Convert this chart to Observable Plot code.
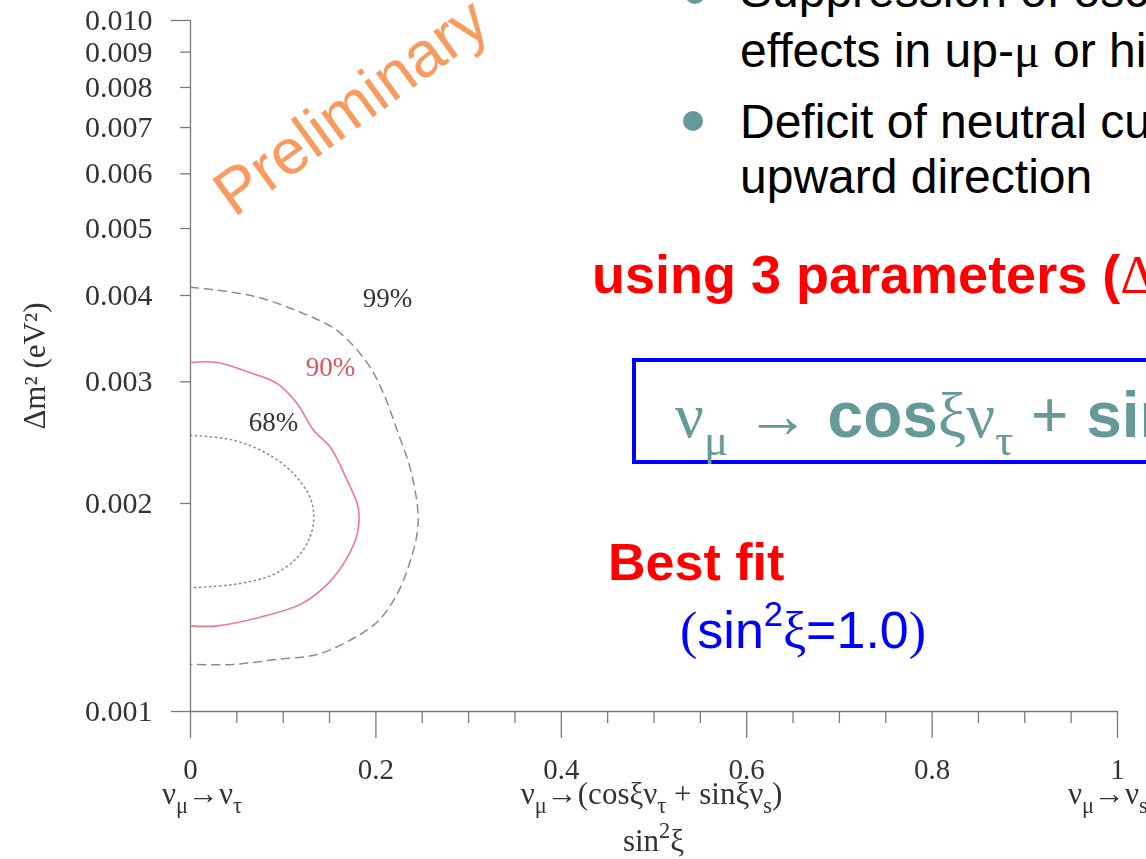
<!DOCTYPE html>
<html>
<head>
<meta charset="utf-8">
<script src="https://cdn.jsdelivr.net/npm/d3@7"></script>
<script src="https://cdn.jsdelivr.net/npm/@observablehq/plot@0.6"></script>
<style>
  html, body { margin: 0; padding: 0; background: #fff; overflow: hidden; }
  #stage { position: relative; width: 1146px; height: 859px; overflow: hidden; }
  #stage > svg { position: absolute; left: 0; top: 0; }
  #chart > svg { filter: blur(0.55px); }
</style>
</head>
<body>
<div id="stage"><div id="chart"></div></div>
<script>
// ---- axis ticks ----
const yMajorTicks = [0.001, 0.01];
const yMinorTicks = [0.002, 0.003, 0.004, 0.005, 0.006, 0.007, 0.008, 0.009];
const xMajorTicks = [0, 0.2, 0.4, 0.6, 0.8, 1];
const xMinorTicks = [0.05, 0.1, 0.15, 0.25, 0.3, 0.35, 0.45, 0.5, 0.55, 0.65, 0.7, 0.75, 0.85, 0.9, 0.95];

// ---- allowed-region contours: [sin²ξ, Δm² (eV²)] ----
const contour68 = [
  [0, 0.00251], [0.046, 0.00247], [0.083, 0.00236], [0.111, 0.00221], [0.129, 0.00204],
  [0.133, 0.00191], [0.129, 0.00179], [0.115, 0.00167], [0.090, 0.00158], [0.051, 0.00153], [0, 0.00151]
];
const contour90 = [
  [0, 0.00320], [0.029, 0.00320], [0.065, 0.00309], [0.094, 0.00298], [0.115, 0.00279],
  [0.133, 0.00255], [0.151, 0.00241], [0.169, 0.00216], [0.181, 0.00197], [0.180, 0.00181],
  [0.169, 0.00167], [0.148, 0.00153], [0.119, 0.00143], [0.076, 0.00137], [0.029, 0.00133], [0, 0.00133]
];
const contour99 = [
  [0, 0.00411], [0.065, 0.00400], [0.119, 0.00378], [0.158, 0.00356], [0.191, 0.00319],
  [0.208, 0.00289], [0.223, 0.00255], [0.237, 0.00225], [0.245, 0.00197], [0.245, 0.00183],
  [0.237, 0.00165], [0.223, 0.00148], [0.202, 0.00135], [0.173, 0.00127], [0.137, 0.00121],
  [0.094, 0.00119], [0.046, 0.00117], [0, 0.00117]
];

// ---- contour labels ----
const labelNames = ["99%", "90%", "68%"];
const labelS = [0.2125, 0.151, 0.0895];
const labelDm2 = [0.00396, 0.00315, 0.00262];
const labelColors = ["#333333", "#e0505f", "#333333"];
const contourLabels = labelNames.map((t, i) => ({text: t, s: labelS[i], dm2: labelDm2[i], color: labelColors[i]}));

const yTitle = "Δm² (eV²)";
const serif = "'Liberation Serif', 'Times New Roman', serif";
const sans = "'Liberation Sans', Arial, sans-serif";

const pt = d => d[0];
const pd = d => d[1];

const plot = Plot.plot({
  width: 1146,
  height: 859,
  marginLeft: 190,
  marginRight: 29,
  marginTop: 20,
  marginBottom: 148,
  style: {fontFamily: serif, fontSize: "29px", color: "#333", background: "transparent", overflow: "visible"},
  x: {domain: [0, 1]},
  y: {type: "log", domain: [0.001, 0.01]},
  marks: [
    Plot.ruleX([0], {stroke: "#7a7a7a", strokeWidth: 1.3}),
    Plot.ruleY([0.001], {stroke: "#7a7a7a", strokeWidth: 1.3}),
    Plot.axisY({ticks: yMajorTicks, tickSize: 19, tickPadding: 19, tickFormat: ".3f", label: null, fontSize: 30, stroke: "#7a7a7a", strokeWidth: 1.3}),
    Plot.axisY({ticks: yMinorTicks, tickSize: 10, tickPadding: 28, tickFormat: ".3f", label: null, fontSize: 30, stroke: "#7a7a7a", strokeWidth: 1.3}),
    Plot.axisX({ticks: xMajorTicks, tickSize: 27, tickPadding: 20, tickFormat: d => String(+d.toFixed(1)), label: null, stroke: "#7a7a7a", strokeWidth: 1.3}),
    Plot.axisX({ticks: xMinorTicks, tickSize: 12, fill: "none", label: null, stroke: "#7a7a7a", strokeWidth: 1.3}),
    Plot.line(contour99, {x: pt, y: pd, curve: "catmull-rom", stroke: "#8c8c8c", strokeWidth: 1.5, strokeDasharray: "8,6"}),
    Plot.line(contour90, {x: pt, y: pd, curve: "catmull-rom", stroke: "#ee7a88", strokeWidth: 1.6}),
    Plot.line(contour68, {x: pt, y: pd, curve: "catmull-rom", stroke: "#8c8c8c", strokeWidth: 1.6, strokeDasharray: "1.2,3.8", strokeLinecap: "round"}),
    Plot.text(contourLabels, {x: "s", y: "dm2", text: "text", fill: "color", fontSize: 27}),
    Plot.text([yTitle], {frameAnchor: "left", textAnchor: "middle", rotate: -90, dx: -155, fontSize: 31})
  ]
});
document.getElementById("chart").appendChild(plot);

// Rich text helper: segments may carry sub/sup, font, weight, colour.
function rich(parent, x, y, segs, base) {
  const t = parent.append("text")
    .attr("x", x).attr("y", y)
    .attr("font-family", base.family)
    .attr("font-size", base.size)
    .attr("font-weight", base.weight || "normal")
    .attr("fill", base.fill)
    .attr("text-anchor", base.anchor || "start");
  let shift = 0;
  for (const s of segs) {
    const seg = typeof s === "string" ? {t: s} : s;
    const target = seg.sub ? 0.28 : seg.sup ? -0.42 : 0;
    const dy = (target - shift) * base.size;
    shift = target;
    const ts = t.append("tspan").text(seg.t);
    if (dy) ts.attr("dy", dy);
    if (seg.sub || seg.sup) ts.attr("font-size", base.size * (seg.scale || base.subScale || 0.66));
    if (seg.family) ts.attr("font-family", seg.family);
    if (seg.weight) ts.attr("font-weight", seg.weight);
    if (seg.fill) ts.attr("fill", seg.fill);
  }
  return t;
}

// Channel names under the sin²ξ axis, placed with the plot's own x scale.
const sx = plot.scale("x");
const chartSvg = d3.select(plot);
const axisNotes = chartSvg.append("g").attr("fill", "#333");
const chan = {family: serif, size: 31, fill: "#333", subScale: 0.72};
rich(axisNotes, sx.apply(0) - 28, 804, ["ν", {t: "μ", sub: true}, "→ν", {t: "τ", sub: true}], chan);
rich(axisNotes, sx.apply(0.4) - 40, 804, ["ν", {t: "μ", sub: true}, "→(cosξν", {t: "τ", sub: true}, " + sinξν", {t: "s", sub: true}, ")"], chan);
rich(axisNotes, sx.apply(1) - 49, 804, ["ν", {t: "μ", sub: true}, "→ν", {t: "s", sub: true}], chan);
rich(axisNotes, sx.apply(0.5), 851, ["sin", {t: "2", sup: true}, "ξ"], {...chan, anchor: "middle"});

// Slide annotations laid over the figure.
const over = d3.select("#stage").append("svg")
  .attr("width", 1146).attr("height", 859)
  .style("overflow", "hidden");

const teal = "#669999";
over.append("circle").attr("cx", 695).attr("cy", -6).attr("r", 10).attr("fill", teal);
over.append("circle").attr("cx", 693).attr("cy", 121).attr("r", 10).attr("fill", teal);

const body = {family: sans, size: 48, fill: "#000"};
rich(over, 740, 7, ["Suppression of oscillation"], body);
rich(over, 740, 67, ["effects in up-", {t: "μ", family: serif}, " or high-energy PC events"], body);
rich(over, 740, 138, ["Deficit of neutral current events in"], body);
rich(over, 740, 193, ["upward direction"], body);

rich(over, 592, 293, ["using 3 parameters (", {t: "Δ", family: serif, weight: "normal"}, "m", {t: "2", sup: true}, ", sin", {t: "2", sup: true}, "2θ, sin", {t: "2", sup: true}, "ξ)"],
  {family: sans, size: 54, weight: "bold", fill: "#ff0000"});

over.append("rect").attr("x", 634).attr("y", 360).attr("width", 700).attr("height", 102)
  .attr("fill", "none").attr("stroke", "#0000ff").attr("stroke-width", 4);
rich(over, 675, 437, [
  {t: "ν", family: serif}, {t: "μ", sub: true, family: serif, scale: 0.7},
  {t: " → "}, {t: "cos", weight: "bold"}, {t: "ξν", family: serif},
  {t: "τ", sub: true, family: serif, scale: 0.7}, {t: " + "}, {t: "sin", weight: "bold"},
  {t: "ξν", family: serif}, {t: "s", sub: true, scale: 0.7}
], {family: sans, size: 64, fill: teal});

rich(over, 608, 580, ["Best fit"], {family: sans, size: 52, weight: "bold", fill: "#ff0000"});
rich(over, 680, 648, [{t: "(", family: serif}, "sin", {t: "2", sup: true}, {t: "ξ", family: serif}, "=1.0", {t: ")", family: serif}],
  {family: sans, size: 52, fill: "#0000ff"});

over.append("text")
  .attr("transform", "translate(234,218) rotate(-36)")
  .attr("font-family", sans).attr("font-size", 64)
  .attr("fill", "#f99a5f")
  .text("Preliminary");
</script>
</body>
</html>
